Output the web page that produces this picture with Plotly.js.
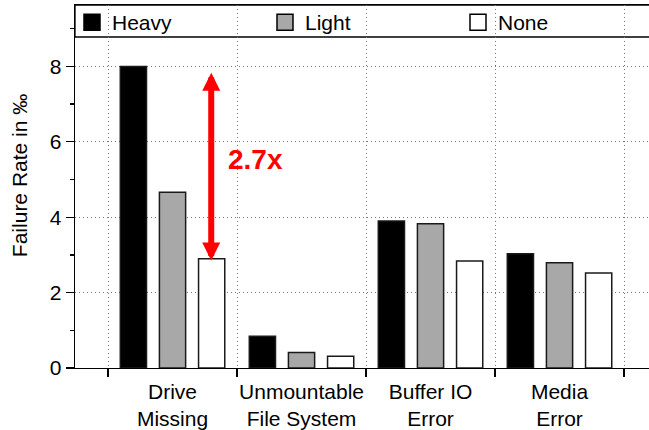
<!DOCTYPE html>
<html>
<head>
<meta charset="utf-8">
<script src="https://cdn.plot.ly/plotly-3.0.1.min.js"></script>
<style>
html,body{margin:0;padding:0;overflow:hidden;background:#fff;}
#chart{width:700px;height:430px;}
</style>
</head>
<body>
<div id="chart"></div>
<script>
var categories = ["Drive<br>Missing", "Unmountable<br>File System", "Buffer IO<br>Error", "Media<br>Error"];
var seriesNames = ["Heavy", "Light", "None"];
var heavy = [8.0, 0.84, 3.90, 3.03];
var light = [4.66, 0.41, 3.83, 2.79];
var none = [2.90, 0.31, 2.84, 2.52];
var yTicks = [0, 2, 4, 6, 8];
var arrowFrom = 7.87;
var arrowTo = 2.85;
var ratioLabel = "2.7x";
var yTitle = "Failure Rate in ‰";

var fills = ["#000000", "#a8a8a8", "#ffffff"];
var values = [heavy, light, none];
var FONT = "Liberation Sans, Arial, Helvetica, sans-serif";
var FS = 21;

var traces = [];
for (var i = 0; i < 3; i++) {
  traces.push({
    type: "bar",
    x: categories,
    y: values[i],
    name: seriesNames[i],
    showlegend: false,
    marker: {color: fills[i], line: {color: "#1a1a1a", width: 1.5}}
  });
}
for (var j = 0; j < 3; j++) {
  traces.push({
    type: "scatter",
    mode: "markers",
    x: [categories[0]],
    y: [null],
    name: seriesNames[j],
    showlegend: true,
    hoverinfo: "skip",
    marker: {symbol: "square", size: 16, color: fills[j], line: {color: "#000", width: 1.5}}
  });
}

var plotW = 625;
var plotH = 362.7;

var layout = {
  width: 700,
  height: 430,
  margin: {l: 75, r: 0, t: 5, b: 62.3},
  paper_bgcolor: "#fff",
  plot_bgcolor: "#fff",
  font: {family: FONT, size: FS, color: "#000"},
  barmode: "group",
  bargap: 0.09,
  bargroupgap: 0.33,
  xaxis: {
    type: "category",
    range: [-0.756, -0.756 + plotW / 129],
    tickson: "boundaries",
    tickangle: 0,
    ticks: "outside",
    ticklen: 8,
    tickwidth: 1.3,
    tickcolor: "#000",
    ticklabelstandoff: 4,
    showline: true,
    linecolor: "#000",
    linewidth: 1.3,
    mirror: true,
    showgrid: true,
    gridcolor: "#777",
    griddash: "1px,3px",
    gridwidth: 1,
    tickfont: {family: FONT, size: FS, color: "#000"},
    zeroline: false
  },
  yaxis: {
    range: [0, 9.63],
    tickvals: yTicks,
    ticks: "outside",
    ticklen: 8,
    tickwidth: 1.3,
    tickcolor: "#000",
    showline: true,
    linecolor: "#000",
    linewidth: 1.3,
    mirror: true,
    showgrid: true,
    gridcolor: "#777",
    griddash: "1px,3px",
    gridwidth: 1,
    zeroline: false,
    minor: {dtick: 1, tick0: 0, ticks: "outside", ticklen: 4, tickcolor: "#000", showgrid: false},
    tickfont: {family: FONT, size: FS, color: "#000"}
  },
  legend: {
    orientation: "h",
    x: -3 / plotW, xanchor: "left",
    y: 1 + 3 / plotH, yanchor: "top",
    bgcolor: "rgba(0,0,0,0)",
    borderwidth: 0,
    entrywidth: 148,
    entrywidthmode: "pixels",
    font: {family: FONT, size: FS, color: "#000"},
    traceorder: "normal"
  },
  shapes: [
    {
      type: "rect", xref: "paper", yref: "paper",
      x0: 0, x1: 1.05,
      ysizemode: "pixel", yanchor: 1, y0: -32, y1: 0,
      fillcolor: "#fff", line: {color: "#000", width: 1.3},
      layer: "between"
    }
  ],
  annotations: [
    {
      x: 0, xref: "paper", xanchor: "center", xshift: -56,
      y: (plotH - 171) / plotH, yref: "paper", yanchor: "middle",
      text: yTitle, textangle: -90, showarrow: false,
      font: {family: FONT, size: FS, color: "#000"}
    },
    {
      x: 0.3, y: arrowTo, xref: "x", yref: "y",
      ax: 0.3, ay: arrowFrom, axref: "x", ayref: "y",
      text: "", showarrow: true,
      arrowside: "end+start",
      arrowhead: 2, startarrowhead: 2,
      arrowsize: 0.6, startarrowsize: 0.6,
      arrowwidth: 6, arrowcolor: "#ff0000",
      standoff: 0, startstandoff: 0
    },
    {
      x: 0.643, y: 5.52, xref: "x", yref: "y",
      text: "<b>" + ratioLabel + "</b>", showarrow: false,
      font: {family: FONT, size: 28, color: "#ff0000"}
    }
  ]
};

Plotly.newPlot("chart", traces, layout, {displayModeBar: false, staticPlot: true});
</script>
</body>
</html>
